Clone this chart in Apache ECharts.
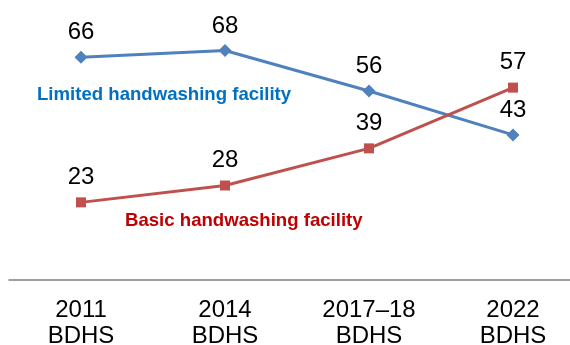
<!DOCTYPE html>
<html><head><meta charset="utf-8">
<script src="https://cdn.jsdelivr.net/npm/echarts@6/dist/echarts.min.js"></script>
<style>html,body{margin:0;padding:0;background:#fff}#c{width:570px;height:345px}</style>
</head><body><div id="c"></div>
<script>
var categories = ['2011\nBDHS', '2014\nBDHS', '2017–18\nBDHS', '2022\nBDHS'];
var limitedValues = [66, 68, 56, 43];
var basicValues = [23, 28, 39, 57];
var limitedName = 'Limited handwashing facility';
var basicName = 'Basic handwashing facility';

var FONT = '"Liberation Sans", Arial, sans-serif';
var chart = echarts.init(document.getElementById('c'));
chart.setOption({
  animation: false,
  grid: {left: 9, top: 10, right: -15, bottom: 65, containLabel: false, outerBoundsMode: 'none'},
  xAxis: {
    type: 'category', data: categories, boundaryGap: true,
    axisLine: {lineStyle: {color: '#808080', width: 1.5}},
    axisTick: {show: false},
    axisLabel: {color: '#000', fontFamily: FONT, fontSize: 24, lineHeight: 25.5, margin: 18}
  },
  yAxis: {type: 'value', min: 0, max: 80, show: false, splitLine: {show: false}},
  series: [
    {name: limitedName, type: 'line', data: limitedValues,
     symbol: 'diamond', symbolSize: 13,
     lineStyle: {color: '#4F81BD', width: 3}, itemStyle: {color: '#4F81BD'},
     label: {show: true, position: 'top', distance: 6, color: '#000', fontFamily: FONT, fontSize: 24}},
    {name: basicName, type: 'line', data: basicValues,
     symbol: 'rect', symbolSize: 10,
     lineStyle: {color: '#C0504D', width: 3}, itemStyle: {color: '#C0504D'},
     label: {show: true, position: 'top', distance: 8, color: '#000', fontFamily: FONT, fontSize: 24}}
  ],
  graphic: [
    {type: 'text', left: 37, top: 85, style: {text: limitedName, fill: '#0070C0', font: 'bold 18.6px ' + FONT}},
    {type: 'text', left: 125, top: 211, style: {text: basicName, fill: '#C00000', font: 'bold 18.6px ' + FONT}}
  ]
});
</script></body></html>
